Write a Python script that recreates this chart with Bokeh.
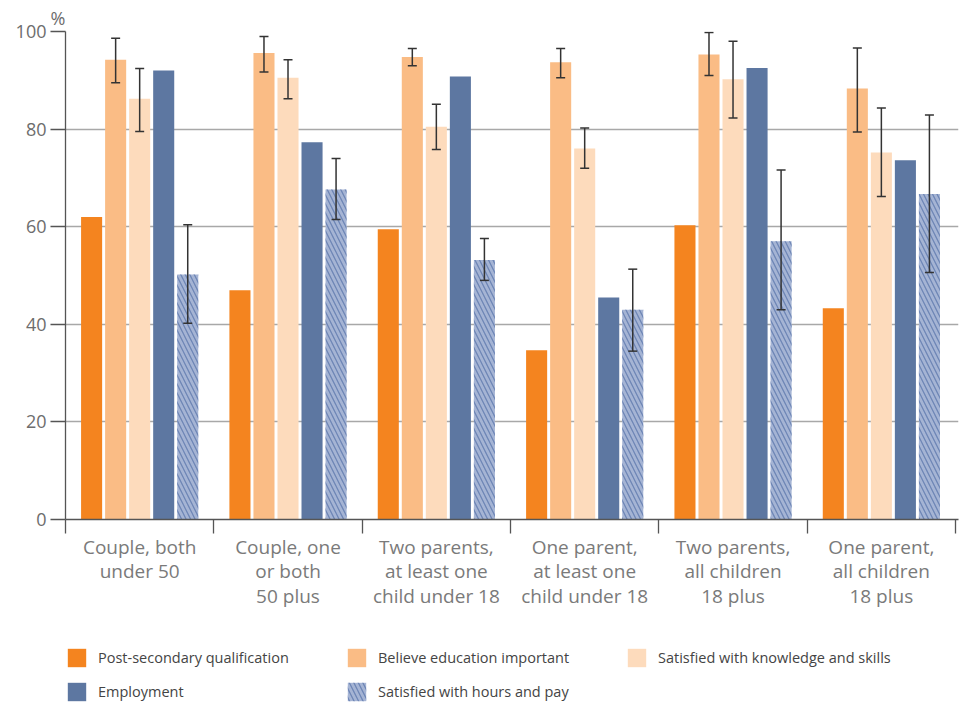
from bokeh.plotting import figure
from bokeh.layouts import column
from bokeh.models import (ColumnDataSource, Range1d, FixedTicker, Whisker, TeeHead,
                          Legend, LegendItem, LinearAxis, Title)
from bokeh.embed import file_html
from bokeh.resources import INLINE

categories = ["Couple, both\nunder 50", "Couple, one\nor both\n50 plus",
              "Two parents,\nat least one\nchild under 18", "One parent,\nat least one\nchild under 18",
              "Two parents,\nall children\n18 plus", "One parent,\nall children\n18 plus"]
series_names = ["Post-secondary qualification", "Believe education important",
                "Satisfied with knowledge and skills", "Employment", "Satisfied with hours and pay"]

post_secondary = [62.0, 47.0, 59.5, 34.7, 60.3, 43.3]
believe_edu = [94.2, 95.6, 94.8, 93.7, 95.3, 88.3]
believe_lo = [89.5, 91.7, 93.0, 90.5, 91.0, 79.4]
believe_hi = [98.6, 99.0, 96.5, 96.5, 99.8, 96.6]
satisfied_skills = [86.2, 90.5, 80.5, 76.0, 90.2, 75.2]
skills_lo = [79.5, 86.2, 75.8, 72.0, 82.3, 66.2]
skills_hi = [92.4, 94.2, 85.1, 80.2, 98.0, 84.3]
employment = [92.0, 77.3, 90.8, 45.5, 92.5, 73.6]
satisfied_hours = [50.2, 67.6, 53.2, 43.0, 57.0, 66.7]
hours_lo = [40.2, 61.5, 49.0, 34.5, 43.0, 50.6]
hours_hi = [60.4, 74.0, 57.6, 51.3, 71.6, 82.9]

FONT = "Open Sans"
colors = ["#F4841F", "#FABC85", "#FDDBBC", "#5D77A1", "#A5B4D4"]
HATCH = dict(hatch_pattern="left_diagonal_line", hatch_color="#6E86B6",
             hatch_weight=1.3, hatch_scale=9)
offsets = [-0.324, -0.162, 0.0, 0.162, 0.324]
bar_w = 0.142

centers = [i + 0.5 for i in range(len(categories))]

p = figure(frame_width=893, frame_height=488, output_backend="svg", toolbar_location=None,
           x_range=Range1d(0, 6.02), y_range=Range1d(0, 100),
           min_border_left=65, min_border_right=3, min_border_top=0, min_border_bottom=120,
           x_axis_type=None)
p.outline_line_color = None
p.background_fill_color = "white"
p.border_fill_color = "white"

t = Title(text="%", align="left", offset=-15, text_font=FONT, text_font_size="18px",
          text_color="#6d6d6d", text_font_style="normal", standoff=4)
p.add_layout(t, "above")
p.min_border_top = 31

values = [post_secondary, believe_edu, satisfied_skills, employment, satisfied_hours]
sources = []
for k, vals in enumerate(values):
    src = ColumnDataSource(dict(x=[c + offsets[k] for c in centers], top=vals))
    sources.append(src)
    kw = HATCH if k == 4 else {}
    p.vbar(x="x", top="top", width=bar_w, source=src, fill_color=colors[k],
           line_color=None, **kw)

for k, lo, hi in [(1, believe_lo, believe_hi), (2, skills_lo, skills_hi), (4, hours_lo, hours_hi)]:
    src = ColumnDataSource(dict(x=[c + offsets[k] for c in centers], lo=lo, hi=hi))
    w = Whisker(base="x", lower="lo", upper="hi", source=src, line_color="#333333",
                line_width=1.5, level="overlay",
                upper_head=TeeHead(size=9, line_color="#333333", line_width=1.5),
                lower_head=TeeHead(size=9, line_color="#333333", line_width=1.5))
    p.add_layout(w)

# axes
p.yaxis.ticker = FixedTicker(ticks=[0, 20, 40, 60, 80, 100])
p.yaxis.axis_line_color = "#555555"
p.yaxis.axis_line_width = 1.3
p.yaxis.major_tick_out = 15
p.yaxis.major_tick_in = 0
p.yaxis.major_tick_line_color = "#555555"
p.yaxis.major_tick_line_width = 1.3
p.yaxis.minor_tick_line_color = None
p.yaxis.major_label_text_font = FONT
p.yaxis.major_label_text_font_size = "18px"
p.yaxis.major_label_text_color = "#6d6d6d"
p.yaxis.major_label_standoff = 4

xaxis = LinearAxis(ticker=FixedTicker(ticks=centers, minor_ticks=list(range(7))))
xaxis.major_label_overrides = {c: lab for c, lab in zip(centers, categories)}
xaxis.major_tick_line_color = None
xaxis.major_tick_out = 0
xaxis.major_tick_in = 0
xaxis.minor_tick_out = 14
xaxis.minor_tick_in = 0
xaxis.minor_tick_line_color = "#555555"
xaxis.minor_tick_line_width = 1.3
xaxis.axis_line_color = "#555555"
xaxis.axis_line_width = 1.3
xaxis.major_label_text_font = FONT
xaxis.major_label_text_font_size = "19px"
xaxis.major_label_text_color = "#7a7a7a"
xaxis.major_label_text_line_height = 0.95
xaxis.major_label_standoff = 0
p.add_layout(xaxis, "below")

p.xgrid.grid_line_color = None
p.ygrid.grid_line_color = "#a8a8a8"
p.ygrid.grid_line_width = 1.3

# legend in its own strip below the chart (bars share the data but sit below its view)
lg = figure(width=961, height=72, output_backend="svg", toolbar_location=None,
            x_range=Range1d(0, 6.02), y_range=Range1d(300, 400),
            x_axis_type=None, y_axis_type=None, min_border=0)
lg.outline_line_color = None
lg.xgrid.grid_line_color = None
lg.ygrid.grid_line_color = None
leg_renderers = []
for k in range(5):
    kw = HATCH if k == 4 else {}
    r = lg.vbar(x="x", top="top", width=bar_w, source=sources[k], fill_color=colors[k],
                line_color=None, **kw)
    leg_renderers.append(r)

items = [LegendItem(label=series_names[k], renderers=[leg_renderers[k]]) for k in range(5)]
legend = Legend(items=items, ncols=3, orientation="horizontal",
                glyph_width=23, glyph_height=23, label_standoff=10, label_width=236,
                spacing=11, label_text_font=FONT, label_text_font_size="14.5px",
                label_text_color="#444444", border_line_color=None,
                background_fill_alpha=0, padding=0, margin=0, location=(0, 8))
lg.add_layout(legend, "center")

open("out.html", "w").write(file_html(column(p, lg, spacing=0), INLINE))
